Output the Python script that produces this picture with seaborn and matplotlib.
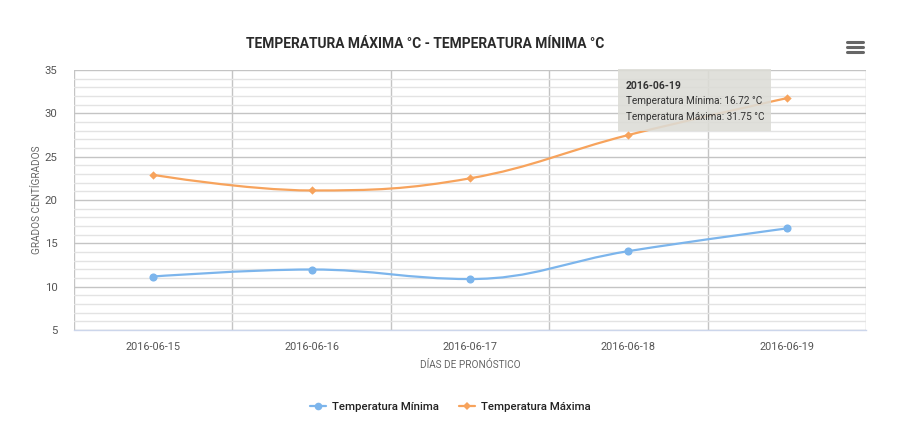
import numpy as np
import pandas as pd
import matplotlib
matplotlib.use("Agg")
import matplotlib.pyplot as plt
from matplotlib.path import Path
from matplotlib.patches import PathPatch, Rectangle
from matplotlib.lines import Line2D
import seaborn as sns

# ---- data ----
dates = ["2016-06-15", "2016-06-16", "2016-06-17", "2016-06-18", "2016-06-19"]
temp_min = [11.17, 11.98, 10.88, 14.10, 16.72]
temp_max = [22.90, 21.10, 22.50, 27.50, 31.75]
series_names = ["Temperatura Mínima", "Temperatura Máxima"]
y_ticks = [5, 10, 15, 20, 25, 30, 35]

title = "TEMPERATURA MÁXIMA °C - TEMPERATURA MÍNIMA °C"
y_label = "GRADOS CENTÍGRADOS"
x_label = "DÍAS DE PRONÓSTICO"

C_MIN = "#7cb5ec"
C_MAX = "#f7a35c"

sns.set_style("white")
FONT = ["Roboto", "DejaVu Sans"]
plt.rcParams["font.family"] = FONT

fig = plt.figure(figsize=(9.10, 4.37), dpi=100)
W, H = 910, 437
ax = fig.add_axes([74 / W, 1 - 330 / H, (866 - 74) / W, (330 - 70) / H])

xs = list(range(len(dates)))
df_min = pd.DataFrame({"idx": xs, "valor": temp_min, "fecha": dates})
df_max = pd.DataFrame({"idx": xs, "valor": temp_max, "fecha": dates})


def spline_path(xs, ys, smoothing=1.5):
    denom = smoothing + 1
    n = len(xs)
    left = [None] * n
    right = [None] * n
    for i in range(n):
        if 0 < i < n - 1:
            lx = (smoothing * xs[i] + xs[i - 1]) / denom
            ly = (smoothing * ys[i] + ys[i - 1]) / denom
            rx = (smoothing * xs[i] + xs[i + 1]) / denom
            ry = (smoothing * ys[i] + ys[i + 1]) / denom
            if rx != lx:
                corr = ((ry - ly) * (rx - xs[i])) / (rx - lx) + ys[i] - ry
                ly += corr
                ry += corr
            if ly > ys[i - 1] and ly > ys[i]:
                ly = max(ys[i - 1], ys[i]); ry = 2 * ys[i] - ly
            elif ly < ys[i - 1] and ly < ys[i]:
                ly = min(ys[i - 1], ys[i]); ry = 2 * ys[i] - ly
            if ry > ys[i + 1] and ry > ys[i]:
                ry = max(ys[i + 1], ys[i]); ly = 2 * ys[i] - ry
            elif ry < ys[i + 1] and ry < ys[i]:
                ry = min(ys[i + 1], ys[i]); ly = 2 * ys[i] - ry
            left[i] = (lx, ly)
            right[i] = (rx, ry)
        else:
            left[i] = right[i] = (xs[i], ys[i])
    verts = [(xs[0], ys[0])]
    codes = [Path.MOVETO]
    for i in range(1, n):
        verts += [right[i - 1], left[i], (xs[i], ys[i])]
        codes += [Path.CURVE4] * 3
    return Path(verts, codes)


for vals, col in [(temp_min, C_MIN), (temp_max, C_MAX)]:
    ax.add_patch(PathPatch(spline_path(xs, vals), facecolor="none",
                           edgecolor=col, lw=1.6, zorder=3, capstyle="round"))

sns.scatterplot(data=df_min, x="idx", y="valor", color=C_MIN, marker="o",
                s=34, linewidth=0, legend=False, ax=ax, zorder=4)
sns.scatterplot(data=df_max, x="idx", y="valor", color=C_MAX, marker="D",
                s=18, linewidth=0, legend=False, ax=ax, zorder=4)

ax.set_xlim(-0.5, len(dates) - 0.5)
ax.set_ylim(5, 35)
ax.set_xticks(xs)
ax.set_xticklabels(dates)
ax.set_xticks(np.arange(-0.5, len(dates)), minor=True)
ax.set_yticks(y_ticks)
ax.set_yticks(np.arange(5, 36, 1), minor=True)

ax.yaxis.grid(True, which="minor", color="#e3e3e3", lw=1, zorder=0)
ax.yaxis.grid(True, which="major", color="#c4c4c4", lw=1, zorder=0)
ax.xaxis.grid(True, which="minor", color="#c4c4c4", lw=1, zorder=0)
ax.xaxis.grid(False, which="major")
ax.set_axisbelow(True)

for s in ["top", "left", "right"]:
    ax.spines[s].set_visible(False)
ax.spines["bottom"].set_color("#ccd6eb")
ax.spines["bottom"].set_linewidth(1)

ax.tick_params(axis="x", which="major", length=0, pad=9, labelsize=7.8, labelcolor="#555555")
ax.tick_params(axis="x", which="minor", length=7, width=1, color="#ccd6eb", direction="out")
ax.tick_params(axis="y", which="both", length=0, pad=12, labelsize=8.2, labelcolor="#555555")

ax.set_xlabel(x_label, fontsize=7.2, color="#666666")
ax.set_ylabel(y_label, fontsize=7.2, color="#666666")
ax.yaxis.set_label_coords(-(74 - 37) / (866 - 74), (330 - 200) / (330 - 70))
ax.xaxis.set_label_coords((470 - 74) / (866 - 74), -(365 - 330) / (330 - 70))
ax.xaxis.label.set_verticalalignment("center")
ax.yaxis.label.set_verticalalignment("center")

fig.text(425 / W, 1 - 44 / H, title, ha="center", va="center",
         fontsize=9.9, fontweight="bold", color="#2a2a2a")

# legend
handles = [
    Line2D([], [], color=C_MIN, lw=1.6, marker="o", markersize=5.5, markeredgewidth=0),
    Line2D([], [], color=C_MAX, lw=1.6, marker="D", markersize=4, markeredgewidth=0),
]
fig.legend(handles, series_names, loc="center", bbox_to_anchor=(450 / W, 1 - 407 / H),
           ncol=2, frameon=False, fontsize=8.2, handlelength=1.4, handletextpad=0.5,
           columnspacing=1.8, labelcolor="#222222",
           prop={"family": FONT, "size": 8.2, "weight": "medium"})

# tooltip
fig.add_artist(Rectangle((618 / W, 1 - 131 / H), (771 - 618) / W, (131 - 69) / H,
                         transform=fig.transFigure, facecolor="#dcdcd6",
                         edgecolor="none", alpha=0.88, zorder=10))
fig.text(626 / W, 1 - 86 / H, "2016-06-19", fontsize=7.5, fontweight="bold",
         color="#333333", va="center", zorder=11)
fig.text(626 / W, 1 - 101.5 / H, "Temperatura Mínima: 16.72 °C", fontsize=7.2,
         color="#333333", va="center", zorder=11)
fig.text(626 / W, 1 - 117.5 / H, "Temperatura Máxima: 31.75 °C", fontsize=7.2,
         color="#333333", va="center", zorder=11)

# menu icon
for yy in [42, 47, 52]:
    fig.add_artist(Line2D([847 / W, 863 / W], [1 - yy / H, 1 - yy / H],
                          transform=fig.transFigure, color="#666666", lw=2.2))

fig.savefig("out.png", dpi=100)
